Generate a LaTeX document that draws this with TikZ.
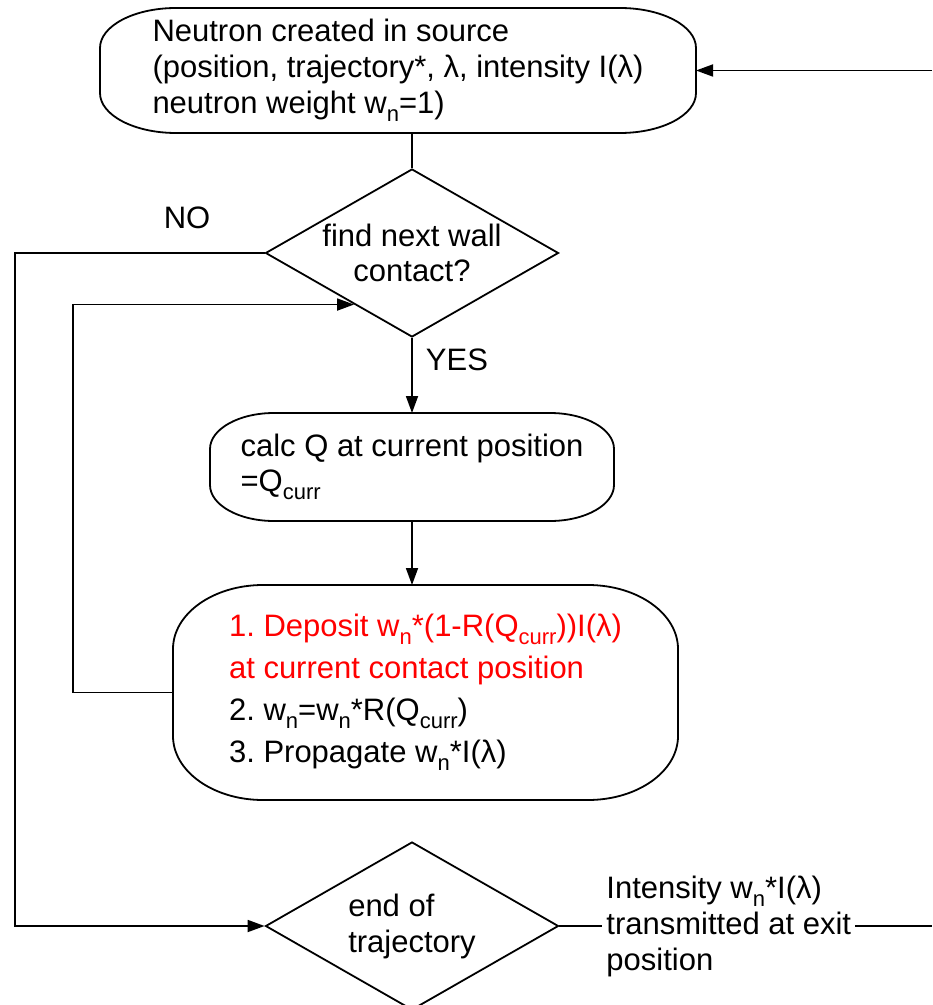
\documentclass[tikz,border=0pt]{standalone}
\usepackage{fontspec}
\setmainfont{Liberation Sans}
\usepackage{tikz}
\usetikzlibrary{arrows.meta,positioning,shapes.geometric,calc}
\frenchspacing
\tikzset{
  ovalbox/.style={
    align=left,
    inner sep=0pt,
    outer sep=0pt
  },
  decision/.style={
    diamond,
    draw,
    line width=0.9pt,
    inner sep=0pt,
    aspect=1.75,
    minimum width=146.5pt,
    minimum height=84pt
  },
  plainline/.style={line width=0.9pt},
  connector/.style={-{Triangle[length=8.5pt,width=6pt]}, line width=0.9pt},
  every edge/.style={draw, connector}
}
% lowered small index, as w_n
\newcommand{\lsub}[1]{\raisebox{-0.26em}{\fontsize{11}{11}\selectfont #1}}
% frame with elliptic corners round a node
\newcommand{\ovalframe}[3]{%
  \draw[plainline]
    ([xshift=#2]#1.north west) -- ([xshift=-#2]#1.north east)
    arc[start angle=90, end angle=0, x radius=#2, y radius=#3]
    -- ([yshift=#3]#1.south east)
    arc[start angle=0, end angle=-90, x radius=#2, y radius=#3]
    -- ([xshift=#2]#1.south west)
    arc[start angle=270, end angle=180, x radius=#2, y radius=#3]
    -- ([yshift=-#3]#1.north west)
    arc[start angle=180, end angle=90, x radius=#2, y radius=#3]
    -- cycle;}

\begin{document}
\begin{tikzpicture}[x=0.5pt,y=-0.5pt,
  every node/.style={font=\fontsize{15.5}{18}\selectfont}]
  \useasboundingbox (0,0) rectangle (932,1005);

  \node[ovalbox, minimum width=298pt, minimum height=62.5pt] (src) at (398,70.5)
    {Neutron created in source\\(position, trajectory*, λ, intensity I(λ)\\neutron weight w\lsub{n}=1)};
  \node[decision, align=center, font=\fontsize{15.5}{17.5}\selectfont] (find) at (412,253)
    {find next wall\\contact?};
  \node[ovalbox, minimum width=202pt, minimum height=54pt,
        font=\fontsize{15.5}{17.5}\selectfont] (calc) at (412,467)
    {calc Q at current position\\=Q\lsub{curr}};
  \node[ovalbox, minimum width=252.5pt, minimum height=107.5pt,
        font=\fontsize{15.5}{21}\selectfont] (dep) at (425.5,692.5)
    {\textcolor{red}{1. Deposit w\lsub{n}*(1-R(Q\lsub{curr}))I(λ)}\\
     \textcolor{red}{at current contact position}\\
     2. w\lsub{n}=w\lsub{n}*R(Q\lsub{curr})\\
     3. Propagate w\lsub{n}*I(λ)};
  \node[decision, align=left] (endt) at (412,926) {end of\\trajectory};

  \ovalframe{src}{38pt}{20pt}
  \ovalframe{calc}{32pt}{18pt}
  \ovalframe{dep}{45pt}{32pt}

  \node (nolbl) at (187,218) {NO};
  \node (yeslbl) at (457,360) {YES};

  \coordinate (backR) at (932,70.5);
  \coordinate (exitR) at (932,926);
  \coordinate (nocorner) at (15,600);
  \coordinate (loopcorner) at (73,500);

  \draw[plainline] (find.north |- src.south) -- (find.north);
  \path (find.south) edge (calc.north)
        (calc.south) edge (calc.south |- dep.north)
        (backR) edge (src.east);
  \draw[connector] (find.west) -| (nocorner) |- (endt.west);
  \draw[connector] (dep.west) -| (loopcorner) |- ($(find.west)!0.607!(find.south)$);
  \draw[plainline] (endt.east) -- (exitR);
  \node[align=left, fill=white, inner sep=2pt, anchor=west] (exit) at (602,926)
    {Intensity w\lsub{n}*I(λ)\\transmitted at exit\\position};
\end{tikzpicture}
\end{document}
